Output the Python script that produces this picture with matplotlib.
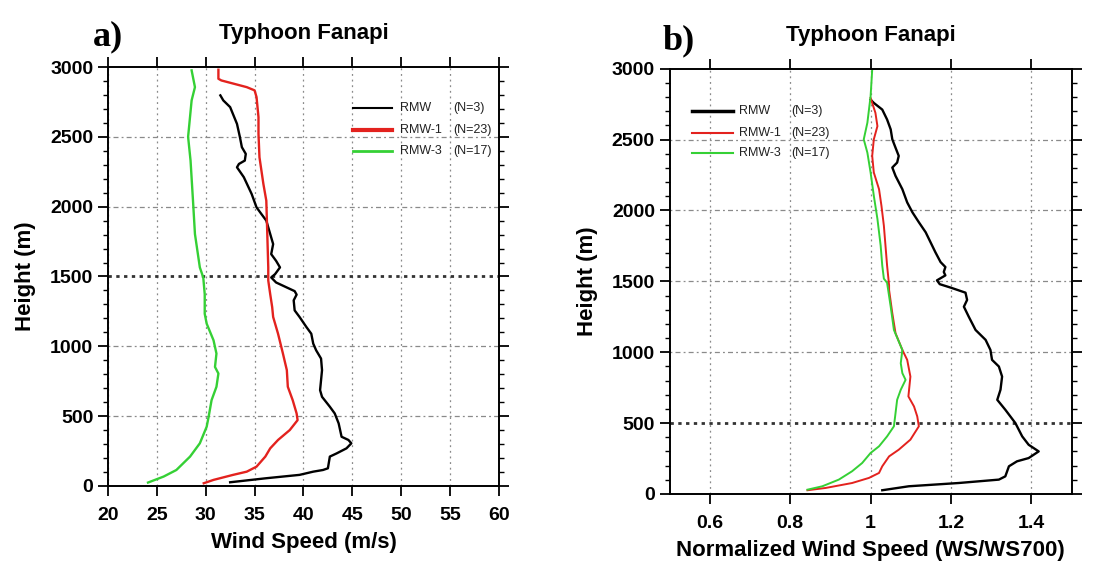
#!/usr/bin/env python3
"""Typhoon Fanapi wind speed profiles (RMW, RMW-1, RMW-3)."""
import matplotlib
matplotlib.use("Agg")
import matplotlib.pyplot as plt
import numpy as np

plt.rcParams.update({
    "font.family": ["Liberation Sans", "DejaVu Sans"],
    "font.weight": "bold",
})

# ---------------------------------------------------------------
# Panel a: wind speed (m/s) vs height (m)
# ---------------------------------------------------------------
a_rmw_ws = [32.5, 36.2, 39.6, 41.0, 42.0, 42.5, 42.7, 43.4, 44.4, 44.9, 44.6, 43.9, 43.6,
            43.2, 42.7, 41.9, 41.7, 41.8, 41.9, 41.8, 41.3, 41.0, 40.8, 40.3, 39.6, 39.1,
            39.0, 39.3, 39.1, 38.3, 37.2, 36.7, 37.1, 37.6, 37.2, 36.7, 36.9, 36.6,
            36.2, 35.7, 35.2, 34.7, 33.9, 33.2, 33.4, 34.0, 34.1, 33.7, 33.5, 33.2, 32.5,
            31.8, 31.5]
a_rmw_h = [26, 55, 79, 102, 114, 126, 210, 233, 269, 305, 329, 352, 448,
           519, 567, 638, 686, 757, 829, 912, 971, 1019, 1090, 1138, 1210, 1257,
           1329, 1370, 1395, 1421, 1457, 1493, 1517, 1565, 1612, 1660, 1732, 1804,
           1900, 1947, 1995, 2091, 2211, 2282, 2306, 2330, 2378, 2426, 2498, 2593, 2713,
           2761, 2797]

a_rmw1_ws = [29.8, 30.8, 32.8, 34.2, 35.2, 36.1, 36.6, 37.4, 38.6, 39.4, 39.3, 38.9, 38.4,
             38.3, 37.9, 37.4, 36.9, 36.8, 36.6, 36.4, 36.4, 36.3, 36.2, 35.9, 35.5, 35.4,
             35.4, 35.2, 35.0, 34.2, 31.6, 31.3, 31.3]
a_rmw1_h = [19, 43, 79, 102, 138, 210, 269, 329, 400, 471, 519, 614, 710,
            829, 948, 1090, 1210, 1281, 1373, 1471, 1565, 1804, 2043, 2163, 2354, 2522,
            2641, 2785, 2833, 2856, 2904, 2916, 2981]

a_rmw3_ws = [24.1, 25.7, 27.0, 28.4, 29.4, 30.1, 30.3, 30.6, 31.1, 31.3, 30.95, 31.1, 30.8,
             30.1, 29.9, 29.9, 29.75, 29.4, 28.9, 28.7, 28.45, 28.2, 28.56, 28.9, 28.56]
a_rmw3_h = [24, 67, 114, 210, 305, 424, 495, 614, 710, 805, 852, 948, 1043,
            1162, 1233, 1373, 1493, 1565, 1804, 2043, 2330, 2500, 2761, 2856, 2976]

# ---------------------------------------------------------------
# Panel b: normalized wind speed (WS/WS700) vs height (m)
# ---------------------------------------------------------------
b_rmw_ws = [1.029, 1.095, 1.219, 1.319, 1.335, 1.344, 1.364, 1.393, 1.418, 1.393, 1.377,
            1.360, 1.335, 1.315, 1.323, 1.327, 1.319, 1.302, 1.298, 1.286, 1.261, 1.244,
            1.232, 1.240, 1.236, 1.200, 1.172, 1.165, 1.186, 1.182, 1.186, 1.174,
            1.161, 1.149, 1.137, 1.120, 1.104, 1.091, 1.079, 1.062, 1.054, 1.066, 1.070,
            1.062, 1.054, 1.050, 1.041, 1.029, 1.008, 1.000]
b_rmw_h = [26, 54, 77, 101, 124, 195, 230, 253, 300, 347, 406,
           500, 594, 664, 735, 828, 899, 946, 1016, 1087, 1157, 1251,
           1321, 1369, 1420, 1455, 1480, 1507, 1542, 1566, 1601, 1636,
           1706, 1776, 1846, 1917, 1987, 2057, 2150, 2244, 2303, 2338, 2385,
           2443, 2502, 2572, 2642, 2712, 2759, 2782]

b_rmw1_ws = [0.843, 0.888, 0.954, 0.996, 1.021, 1.029, 1.046, 1.070, 1.099, 1.120, 1.116,
             1.108, 1.094, 1.099, 1.091, 1.079, 1.062, 1.054, 1.046, 1.046, 1.041, 1.037,
             1.033, 1.027, 1.021, 1.008, 1.004, 1.008, 1.017, 1.012, 1.000]
b_rmw1_h = [26, 42, 77, 113, 148, 195, 265, 312, 383, 477, 547,
            617, 688, 828, 946, 1016, 1134, 1275, 1439, 1472, 1612, 1753,
            1893, 2033, 2150, 2268, 2385, 2502, 2595, 2689, 2794]

b_rmw3_ws = [0.843, 0.880, 0.921, 0.954, 0.979, 1.000, 1.021, 1.041, 1.058, 1.062, 1.066,
             1.075, 1.087, 1.079, 1.075, 1.079, 1.058, 1.050, 1.041, 1.033, 1.029, 1.025,
             1.017, 1.008, 1.000, 0.992, 0.983, 0.992, 1.000, 1.002, 1.004]
b_rmw3_h = [30, 54, 101, 160, 218, 289, 336, 406, 477, 570, 664,
            735, 805, 852, 922, 1016, 1157, 1321, 1490, 1519, 1612, 1753,
            1940, 2104, 2268, 2408, 2502, 2619, 2806, 2899, 2993]

series_names = ["RMW", "RMW-1", "RMW-3"]
series_counts = ["(N=3)", "(N=23)", "(N=17)"]
COLORS = ["black", "#e3221e", "#35d035"]

a_xticks = [20, 25, 30, 35, 40, 45, 50, 55, 60]
b_xticks = [0.6, 0.8, 1.0, 1.2, 1.4]
b_xticklabels = ["0.6", "0.8", "1", "1.2", "1.4"]
yticks = [0, 500, 1000, 1500, 2000, 2500, 3000]

GRID = "#8a8a8a"

fig = plt.figure(figsize=(11.14, 5.73), dpi=100)
ax_a = fig.add_axes([0.0969, 0.152, 0.351, 0.731])
ax_b = fig.add_axes([0.601, 0.138, 0.361, 0.742])


def style_axes(ax, xlim, xticks, xticklabels, xlabel, emph_y):
    ax.set_xlim(*xlim)
    ax.set_ylim(0, 3000)
    ax.set_xticks(xticks)
    ax.set_xticklabels(xticklabels)
    ax.set_yticks(yticks)
    ax.set_yticks(np.arange(0, 3001, 100), minor=True)
    ax.tick_params(axis="both", which="major", direction="out", length=7, width=1.3,
                   labelsize=14, top=True, right=True)
    ax.tick_params(axis="y", which="minor", direction="out", length=3.5, width=1.0,
                   right=True)
    ax.tick_params(axis="x", which="major", pad=8)
    for lab in ax.get_xticklabels() + ax.get_yticklabels():
        lab.set_fontweight("bold")
    for s in ax.spines.values():
        s.set_linewidth(1.4)
    # grid
    for xv in xticks:
        ax.axvline(xv, color=GRID, linestyle=(0, (1.5, 3)), linewidth=0.9, zorder=0)
    for yv in yticks[1:-1]:
        if yv == emph_y:
            ax.axhline(yv, color="#333333", linestyle=(0, (1.2, 1.6)), linewidth=2.0, zorder=0)
        else:
            ax.axhline(yv, color=GRID, linestyle=(0, (1.5, 2.5, 4, 2.5)), linewidth=0.9,
                       zorder=0)
    ax.set_xlabel(xlabel, fontsize=16, fontweight="bold", labelpad=6)
    ax.set_ylabel("Height (m)", fontsize=16, fontweight="bold", labelpad=10)
    ax.set_title("Typhoon Fanapi", fontsize=16, fontweight="bold", pad=20)


def legend(ax, x0, x1, xt, xn, ys, lw):
    for i in range(3):
        ax.plot([x0, x1], [ys[i], ys[i]], color=COLORS[i], lw=lw[i],
                transform=ax.transAxes, clip_on=False)
        ax.text(xt, ys[i], series_names[i], transform=ax.transAxes, fontsize=9,
                fontweight="normal", va="center", ha="left", color="#222222")
        ax.text(xn, ys[i], series_counts[i], transform=ax.transAxes, fontsize=9,
                fontweight="normal", va="center", ha="left", color="#222222")


# Panel a
ax_a.plot(a_rmw_ws, a_rmw_h, color=COLORS[0], lw=1.7)
ax_a.plot(a_rmw1_ws, a_rmw1_h, color=COLORS[1], lw=1.7)
ax_a.plot(a_rmw3_ws, a_rmw3_h, color=COLORS[2], lw=1.7)
style_axes(ax_a, (20, 60), a_xticks, [str(v) for v in a_xticks], "Wind Speed (m/s)", 1500)
legend(ax_a, 0.627, 0.726, 0.747, 0.882, [0.902, 0.850, 0.800], [1.5, 3.0, 2.0])

# Panel b
ax_b.plot(b_rmw_ws, b_rmw_h, color=COLORS[0], lw=1.7)
ax_b.plot(b_rmw1_ws, b_rmw1_h, color=COLORS[1], lw=1.4)
ax_b.plot(b_rmw3_ws, b_rmw3_h, color=COLORS[2], lw=1.4)
style_axes(ax_b, (0.5, 1.5), b_xticks, b_xticklabels,
           "Normalized Wind Speed (WS/WS700)", 500)
legend(ax_b, 0.055, 0.157, 0.174, 0.303, [0.901, 0.849, 0.802], [2.5, 1.5, 1.5])

# Panel letters
fig.text(0.083, 0.935, "a)", fontsize=26, fontweight="bold",
         family=["Liberation Serif", "DejaVu Serif"], va="center")
fig.text(0.595, 0.928, "b)", fontsize=26, fontweight="bold",
         family=["Liberation Serif", "DejaVu Serif"], va="center")

fig.savefig("out.png", dpi=100)
